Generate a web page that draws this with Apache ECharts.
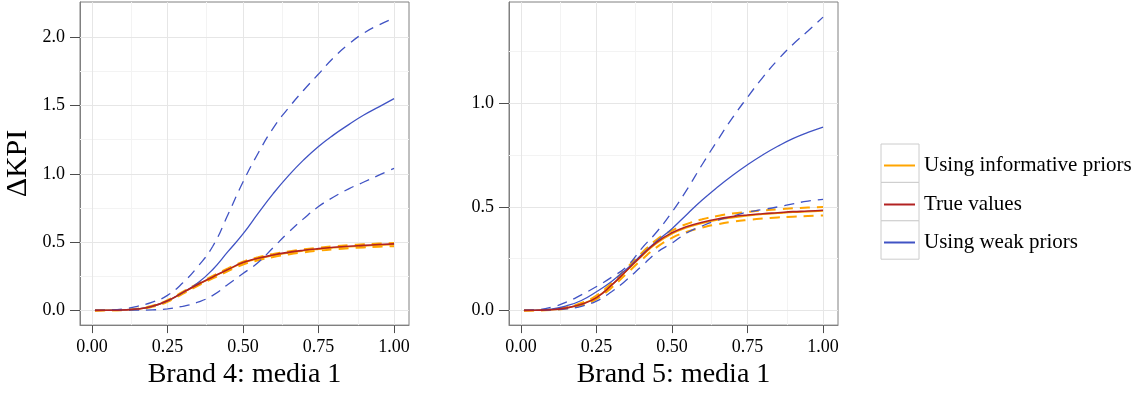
<!DOCTYPE html>
<html>
<head>
<meta charset="utf-8">
<script src="https://cdn.jsdelivr.net/npm/echarts@6/dist/echarts.min.js"></script>
<style>
html,body{margin:0;padding:0;background:#fff;}
#chart{width:1148px;height:394px;}
</style>
</head>
<body>
<div id="chart"></div>
<script>
// ---- data ----
const xs = [0.01,0.05,0.10,0.15,0.20,0.25,0.30,0.35,0.40,0.45,0.50,0.55,0.60,0.65,0.70,0.75,0.80,0.85,0.90,0.95,1.00];

const panelTitles = ['Brand 4: media 1', 'Brand 5: media 1'];
const seriesNames = ['Using informative priors', 'True values', 'Using weak priors'];

const xTicks = [0, 0.25, 0.5, 0.75, 1.0];
const xMinor = [0.125, 0.375, 0.625, 0.875];
const yTicksB4 = [0, 0.5, 1.0, 1.5, 2.0];
const yMinorB4 = [0.25, 0.75, 1.25, 1.75];
const yTicksB5 = [0, 0.5, 1.0];
const yMinorB5 = [0.25, 0.75, 1.25];

// Brand 4
const b4_true     = [0,0.001,0.003,0.010,0.030,0.070,0.130,0.190,0.245,0.300,0.350,0.382,0.406,0.425,0.440,0.452,0.462,0.470,0.476,0.482,0.487];
const b4_inf_mean = [0,0.001,0.003,0.010,0.030,0.069,0.128,0.188,0.243,0.297,0.346,0.378,0.402,0.421,0.436,0.448,0.458,0.466,0.472,0.477,0.482];
const b4_inf_hi   = [0,0.001,0.004,0.012,0.034,0.075,0.135,0.196,0.252,0.307,0.356,0.389,0.413,0.432,0.447,0.459,0.469,0.477,0.484,0.489,0.494];
const b4_inf_lo   = [0,0.001,0.002,0.008,0.026,0.063,0.121,0.180,0.234,0.287,0.336,0.367,0.391,0.410,0.425,0.437,0.447,0.455,0.461,0.466,0.470];
const b4_weak_mean= [0,0.001,0.004,0.012,0.030,0.070,0.130,0.200,0.300,0.430,0.560,0.710,0.855,0.985,1.100,1.200,1.285,1.360,1.430,1.490,1.550];
const b4_weak_hi  = [0,0.003,0.010,0.030,0.060,0.110,0.200,0.320,0.470,0.700,0.940,1.150,1.335,1.480,1.610,1.730,1.850,1.950,2.030,2.090,2.140];
const b4_weak_lo  = [0,0.000,0.001,0.002,0.004,0.012,0.030,0.060,0.110,0.190,0.270,0.350,0.460,0.570,0.670,0.760,0.830,0.890,0.940,0.990,1.040];

// Brand 5
const b5_true     = [0,0.001,0.003,0.012,0.030,0.062,0.122,0.193,0.265,0.330,0.375,0.405,0.426,0.442,0.453,0.461,0.467,0.472,0.477,0.480,0.484];
const b5_inf_mean = [0,0.001,0.003,0.012,0.031,0.064,0.122,0.192,0.262,0.325,0.370,0.400,0.421,0.437,0.448,0.457,0.464,0.469,0.474,0.477,0.480];
const b5_inf_hi   = [0,0.001,0.004,0.015,0.036,0.072,0.133,0.205,0.278,0.342,0.386,0.418,0.440,0.456,0.468,0.476,0.483,0.488,0.493,0.497,0.500];
const b5_inf_lo   = [0,0.000,0.002,0.009,0.025,0.055,0.110,0.178,0.245,0.306,0.350,0.380,0.400,0.416,0.428,0.437,0.444,0.449,0.453,0.456,0.459];
const b5_weak_mean= [0,0.001,0.006,0.022,0.048,0.090,0.140,0.200,0.270,0.335,0.395,0.465,0.533,0.595,0.652,0.704,0.751,0.793,0.830,0.860,0.886];
const b5_weak_hi  = [0,0.003,0.015,0.040,0.075,0.115,0.160,0.212,0.300,0.380,0.475,0.585,0.705,0.820,0.930,1.030,1.125,1.210,1.285,1.350,1.417];
const b5_weak_lo  = [0,0.000,0.002,0.007,0.020,0.045,0.090,0.148,0.214,0.280,0.325,0.375,0.408,0.435,0.455,0.475,0.487,0.500,0.515,0.528,0.536];

// ---- styling ----
const ORANGE = '#FFA500', RED = '#B22222', BLUE = '#4053C4';
const FONT = '"Liberation Serif", "DejaVu Serif", serif';

function pts(ys){ return xs.map((x,i)=>[x, ys[i]]); }
function line(name, ys, g, color, width, dashed, z){
  return {
    type:'line', name:name, data:pts(ys), xAxisIndex:g, yAxisIndex:g,
    showSymbol:false, symbol:'none', smooth:0.5,
    lineStyle:{color:color, width:width, type: dashed ? [10,7] : 'solid', cap:'butt'},
    itemStyle:{color:color}, z:z, silent:true, animation:false
  };
}
function gridHelper(g, yMaj, yMin){
  const d = [];
  yMin.forEach(v=>d.push({yAxis:v, lineStyle:{color:'#f3f3f3', width:1}}));
  xMinor.forEach(v=>d.push({xAxis:v, lineStyle:{color:'#f3f3f3', width:1}}));
  yMaj.forEach(v=>d.push({yAxis:v, lineStyle:{color:'#e6e6e6', width:1}}));
  xTicks.forEach(v=>d.push({xAxis:v, lineStyle:{color:'#e6e6e6', width:1}}));
  return {
    type:'line', data:[], xAxisIndex:g, yAxisIndex:g, silent:true, animation:false,
    markLine:{silent:true, z:1, symbol:['none','none'], label:{show:false}, animation:false,
      lineStyle:{type:'solid'}, data:d}
  };
}
function xAxis(g){
  return {
    type:'value', gridIndex:g, min:-0.0395, max:1.0495,
    name:panelTitles[g], nameLocation:'middle', nameGap:34,
    nameTextStyle:{fontFamily:FONT, fontSize:28, color:'#000'},
    axisLine:{show:true, onZero:false, lineStyle:{color:'#808080', width:1}},
    axisTick:{show:true, length:8, customValues:xTicks, lineStyle:{color:'#4d4d4d', width:1}},
    axisLabel:{customValues:xTicks, margin:13, fontFamily:FONT, fontSize:18, color:'#000',
      formatter:v=>v.toFixed(2)},
    splitLine:{show:false}
  };
}
function yAxis(g, mn, mx, ticks, name){
  return {
    type:'value', gridIndex:g, min:mn, max:mx,
    name:name, nameLocation:'middle', nameGap:47, nameRotate:90,
    nameTextStyle:{fontFamily:FONT, fontSize:30, color:'#000'},
    axisLine:{show:true, onZero:false, lineStyle:{color:'#808080', width:1}},
    axisTick:{show:true, length:10, customValues:ticks, lineStyle:{color:'#4d4d4d', width:1}},
    axisLabel:{customValues:ticks, margin:15, fontFamily:FONT, fontSize:18, color:'#000',
      formatter:v=>v.toFixed(1)},
    splitLine:{show:false}
  };
}
function legend(i, top){
  return {
    data:[seriesNames[i]], orient:'vertical', left:884, top:top, padding:0,
    icon:'rect', itemWidth:31, itemHeight:2, selectedMode:false,
    itemStyle:{borderWidth:0},
    textStyle:{fontFamily:FONT, fontSize:21, lineHeight:20, color:'#000', padding:[0,0,0,4]}
  };
}

const series = [
  gridHelper(0, yTicksB4, yMinorB4),
  gridHelper(1, yTicksB5, yMinorB5),
  // Brand 4
  line(seriesNames[0], b4_inf_mean, 0, ORANGE, 1.5, false, 2),
  line(seriesNames[0], b4_inf_hi,   0, ORANGE, 2,   true,  2),
  line(seriesNames[0], b4_inf_lo,   0, ORANGE, 2,   true,  2),
  line(seriesNames[2], b4_weak_mean,0, BLUE,   1.3, false, 3),
  line(seriesNames[2], b4_weak_hi,  0, BLUE,   1.3, true,  3),
  line(seriesNames[2], b4_weak_lo,  0, BLUE,   1.3, true,  3),
  line(seriesNames[1], b4_true,     0, RED,    1.6, false, 4),
  // Brand 5
  line(seriesNames[0], b5_inf_mean, 1, ORANGE, 1.5, false, 2),
  line(seriesNames[0], b5_inf_hi,   1, ORANGE, 2,   true,  2),
  line(seriesNames[0], b5_inf_lo,   1, ORANGE, 2,   true,  2),
  line(seriesNames[2], b5_weak_mean,1, BLUE,   1.3, false, 3),
  line(seriesNames[2], b5_weak_hi,  1, BLUE,   1.3, true,  3),
  line(seriesNames[2], b5_weak_lo,  1, BLUE,   1.3, true,  3),
  line(seriesNames[1], b5_true,     1, RED,    1.6, false, 4)
];

const option = {
  animation:false,
  backgroundColor:'#fff',
  grid:[
    {left:80, top:2, width:329, height:327, show:true, borderColor:'#808080', borderWidth:1, backgroundColor:'#fff', containLabel:false},
    {left:509, top:2, width:329, height:327, show:true, borderColor:'#808080', borderWidth:1, backgroundColor:'#fff', containLabel:false}
  ],
  xAxis:[xAxis(0), xAxis(1)],
  yAxis:[
    yAxis(0, -0.1075, 2.2575, yTicksB4, 'ΔKPI'),
    yAxis(1, -0.071, 1.49, yTicksB5, '')
  ],
  legend:[legend(0,155), legend(1,194), legend(2,232)],
  graphic:[
    {type:'rect', z:0, shape:{x:881, y:144, width:38, height:38.4}, style:{fill:'#fff', stroke:'#cccccc', lineWidth:1}},
    {type:'rect', z:0, shape:{x:881, y:182.4, width:38, height:38.4}, style:{fill:'#fff', stroke:'#cccccc', lineWidth:1}},
    {type:'rect', z:0, shape:{x:881, y:220.8, width:38, height:38.4}, style:{fill:'#fff', stroke:'#cccccc', lineWidth:1}}
  ],
  series:series
};

const chart = echarts.init(document.getElementById('chart'), null, {renderer:'canvas'});
chart.setOption(option);
</script>
</body>
</html>
